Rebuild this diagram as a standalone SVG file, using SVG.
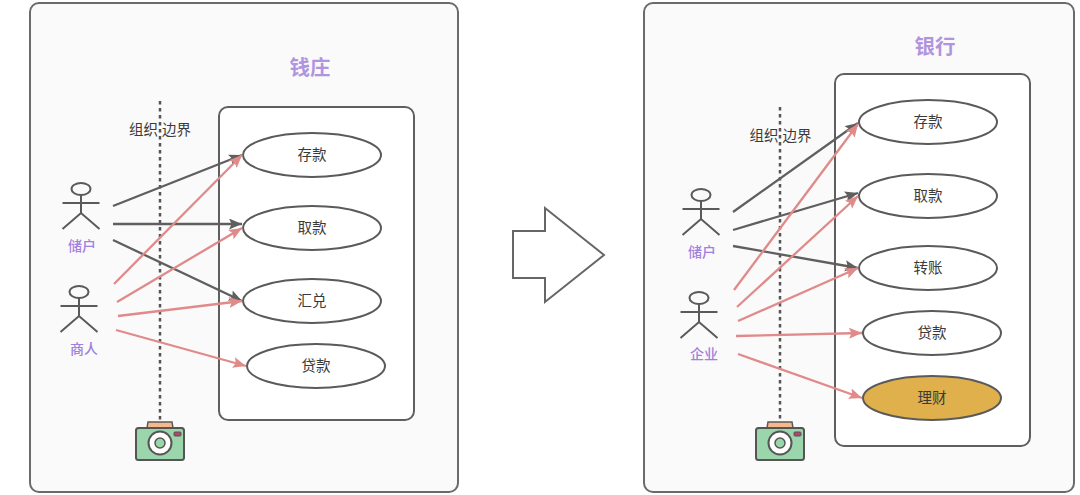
<svg xmlns="http://www.w3.org/2000/svg" width="1080" height="495" viewBox="0 0 1080 495">
<style>
text{font-family:"Liberation Sans","Noto Sans CJK SC",sans-serif;text-anchor:middle}
.panel{fill:#fafafa;stroke:#6b6b6b;stroke-width:2}
.box{fill:#fff;stroke:#5f5f5f;stroke-width:2}
.uc{fill:#fff;stroke:#5a5a5a;stroke-width:2}
.t{font-size:14.500px;fill:#3a3a3a}
.title{font-size:20.500px;font-weight:bold;fill:#b094e0}
.role{font-size:14px;fill:#a080e0;font-weight:500}
.actor{fill:none;stroke:#5a5a5a;stroke-width:2}
.d{stroke:#5f5f5f;stroke-width:2.300;fill:none;marker-end:url(#ad)}
.r{stroke:#e08a8a;stroke-width:2.300;fill:none;marker-end:url(#ar)}
.bound{stroke:#555;stroke-width:2.500;stroke-dasharray:3.500 3.500;fill:none}
</style>
<defs>
<marker id="ad" markerUnits="userSpaceOnUse" markerWidth="15" markerHeight="12" refX="13" refY="5.500" orient="auto"><path d="M0 0L13 5.500L0 11L2.500 5.500Z" fill="#5f5f5f"/></marker>
<marker id="ar" markerUnits="userSpaceOnUse" markerWidth="15" markerHeight="12" refX="13" refY="5.500" orient="auto"><path d="M0 0L13 5.500L0 11L2.500 5.500Z" fill="#e08a8a"/></marker>
<g id="actor"><ellipse cx="0" cy="0" rx="9.500" ry="6" class="actor"/><path class="actor" d="M0 6V24M-18.500 14H18.500M-18.500 40L0 24L18.500 40"/></g>
<g id="cam">
<path d="M-13 -10L-12 -16H12L13 -10Z" fill="#f5b98a" stroke="#5a5a5a" stroke-width="1.500"/>
<rect x="-24" y="-10" width="48" height="32" rx="2.500" fill="#9bd5ab" stroke="#555" stroke-width="2"/>
<rect x="14" y="-6" width="7" height="4" rx="1" fill="#b5446e" stroke="#555"/>
<circle cx="0" cy="5" r="11.500" fill="#fff" stroke="#555" stroke-width="2"/>
<circle cx="0" cy="5" r="5" fill="#9bd5ab" stroke="#555" stroke-width="1.500"/>
</g>
</defs>
<rect width="1080" height="495" fill="#fff"/>

<g id="left-panel"><rect class="panel" x="30" y="3" width="428" height="489" rx="9"/><text class="title" x="310" y="75">钱庄</text></g>
<g id="right-panel"><rect class="panel" x="644" y="3" width="430" height="489" rx="9"/><text class="title" x="935" y="54">银行</text></g>
<g id="left-boundary-box"><rect class="box" x="219" y="107" width="195" height="313" rx="9"/></g>
<g id="right-boundary-box"><rect class="box" x="835" y="74" width="195" height="372" rx="9"/></g>

<g id="left-org-boundary"><path class="bound" d="M160 101V420"/><text class="t" x="160" y="135">组织 边界</text></g>
<g id="right-org-boundary"><path class="bound" d="M780 107V420"/><text class="t" x="780.500" y="141">组织 边界</text></g>

<g id="uc-l1"><ellipse class="uc" cx="312" cy="155" rx="69" ry="22"/><text class="t" x="312" y="160">存款</text></g>
<g id="uc-l2"><ellipse class="uc" cx="312" cy="228" rx="69" ry="22"/><text class="t" x="312" y="233">取款</text></g>
<g id="uc-l3"><ellipse class="uc" cx="312" cy="301" rx="69" ry="22"/><text class="t" x="312" y="306">汇兑</text></g>
<g id="uc-l4"><ellipse class="uc" cx="316" cy="366" rx="69" ry="22"/><text class="t" x="316" y="371">贷款</text></g>

<g id="uc-r1"><ellipse class="uc" cx="928" cy="122" rx="69" ry="22"/><text class="t" x="928" y="127">存款</text></g>
<g id="uc-r2"><ellipse class="uc" cx="928" cy="196" rx="69" ry="22"/><text class="t" x="928" y="201">取款</text></g>
<g id="uc-r3"><ellipse class="uc" cx="928" cy="268" rx="69" ry="22"/><text class="t" x="928" y="273">转账</text></g>
<g id="uc-r4"><ellipse class="uc" cx="932" cy="333" rx="69" ry="22"/><text class="t" x="932" y="338">贷款</text></g>
<g id="uc-r5"><ellipse cx="932" cy="398" rx="69" ry="22" fill="#e0b04c" stroke="#5a5a5a" stroke-width="2"/><text class="t" x="932" y="403">理财</text></g>

<g id="actor-l1"><use href="#actor" x="81" y="189"/><text class="role" x="82" y="251">储户</text></g>
<g id="actor-l2"><use href="#actor" x="79" y="292"/><text class="role" x="84" y="354">商人</text></g>
<g id="actor-r1"><use href="#actor" x="701" y="195"/><text class="role" x="702" y="257">储户</text></g>
<g id="actor-r2"><use href="#actor" x="699" y="298"/><text class="role" x="704" y="359">企业</text></g>

<g id="connectors">
<path class="d" d="M113 206L242 155"/>
<path class="d" d="M113 224H242"/>
<path class="d" d="M113 240L242 301"/>
<path class="r" d="M114 284L242 155"/>
<path class="r" d="M117 302L242 228"/>
<path class="r" d="M118 316L242 301"/>
<path class="r" d="M116 330L246 366"/>
<path class="d" d="M733 212L858 123"/>
<path class="d" d="M733 230L858 193"/>
<path class="d" d="M733 246L858 268"/>
<path class="r" d="M734 290L858 124"/>
<path class="r" d="M737 307L858 196"/>
<path class="r" d="M738 321L858 268"/>
<path class="r" d="M736 336L862 333"/>
<path class="r" d="M738 354L862 398"/>
</g>

<g id="arrow"><path d="M513 231H545V208L604 255L545 302V278H513Z" fill="#fff" stroke="#666" stroke-width="2"/></g>
<use id="camera-l" href="#cam" x="160" y="438"/>
<use id="camera-r" href="#cam" x="780" y="438"/>
</svg>
